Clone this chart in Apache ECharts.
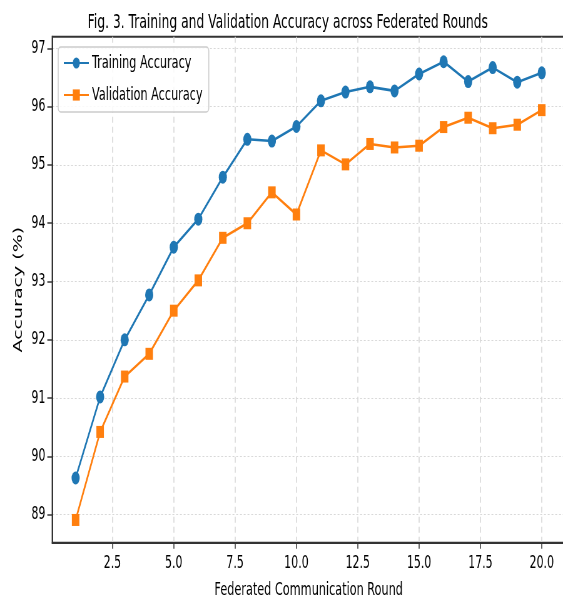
<!DOCTYPE html>
<html>
<head>
<meta charset="utf-8">
<script src="https://cdn.jsdelivr.net/npm/echarts@6/dist/echarts.min.js"></script>
<style>
html, body { margin: 0; padding: 0; background: #fff; overflow: hidden; }
#wrap { width: 563px; height: 600px; overflow: hidden; }
/* the reference is a 900px wide figure squeezed to 563px */
#chart { width: 900px; height: 600px; transform: scaleX(0.62556); transform-origin: 0 0; }
</style>
</head>
<body>
<div id="wrap"><div id="chart"></div></div>
<script>
var rounds = [1, 2, 3, 4, 5, 6, 7, 8, 9, 10, 11, 12, 13, 14, 15, 16, 17, 18, 19, 20];
var trainAcc = [89.63, 91.02, 92.00, 92.77, 93.59, 94.07, 94.79, 95.44, 95.41, 95.66,
                96.10, 96.25, 96.34, 96.27, 96.56, 96.77, 96.43, 96.67, 96.42, 96.58];
var valAcc = [88.91, 90.42, 91.37, 91.76, 92.50, 93.02, 93.75, 94.00, 94.53, 94.15,
              95.25, 95.01, 95.36, 95.30, 95.33, 95.65, 95.81, 95.63, 95.69, 95.94];
var xTicks = [2.5, 5, 7.5, 10, 12.5, 15, 17.5, 20];
var yTicks = [89, 90, 91, 92, 93, 94, 95, 96, 97];

var font = 'DejaVu Sans';

function pairs(xs, ys) {
    var out = [];
    for (var i = 0; i < xs.length; i++) out.push([xs[i], ys[i]]);
    return out;
}

var myChart = echarts.init(document.getElementById('chart'));

var option = {
    animation: false,
    backgroundColor: '#fff',
    title: {
        text: 'Fig. 3. Training and Validation Accuracy across Federated Rounds',
        left: 455,
        top: 8,
        textAlign: 'center',
        textStyle: { fontFamily: font, fontSize: 19.7, fontWeight: 'normal', color: '#000' }
    },
    legend: {
        left: 93,
        top: 47,
        orient: 'vertical',
        itemWidth: 40,
        itemHeight: 14,
        itemGap: 14,
        padding: [7, 10, 8, 8],
        backgroundColor: 'rgba(255,255,255,0.85)',
        borderColor: '#cccccc',
        borderWidth: 1.5,
        borderRadius: 4,
        textStyle: { fontFamily: font, fontSize: 18, color: '#000' },
        data: ['Training Accuracy', 'Validation Accuracy']
    },
    grid: {
        left: 83.6,
        right: -3.3,
        top: 36.7,
        bottom: 57.3,
        outerBoundsMode: 'none',
        show: true,
        borderColor: '#333',
        borderWidth: 2
    },
    xAxis: {
        type: 'value',
        min: 0.05,
        max: 20.95,
        name: 'Federated Communication Round',
        nameLocation: 'middle',
        nameGap: 39,
        nameTextStyle: { fontFamily: font, fontSize: 18, color: '#000' },
        axisLine: { show: true, lineStyle: { color: '#333', width: 2 } },
        axisTick: { show: true, customValues: xTicks, length: 6, lineStyle: { color: '#333', width: 1.5 } },
        axisLabel: {
            customValues: xTicks,
            margin: 12,
            fontFamily: font, fontSize: 17.5, color: '#000',
            formatter: function (v) { return v.toFixed(1); }
        },
        splitLine: { show: true, lineStyle: { color: '#d8d8d8', type: [6, 4], width: 1.6 } }
    },
    yAxis: {
        type: 'value',
        min: 88.52,
        max: 97.2,
        name: 'Accuracy (%)',
        nameLocation: 'middle',
        nameGap: 42,
        nameTextStyle: { fontFamily: font, fontSize: 19, color: '#000' },
        axisLine: { show: true, lineStyle: { color: '#333', width: 2 } },
        axisTick: { show: true, customValues: yTicks, length: 8, lineStyle: { color: '#333', width: 1.5 } },
        axisLabel: {
            customValues: yTicks,
            margin: 11,
            fontFamily: font, fontSize: 17.5, color: '#000'
        },
        splitLine: { show: true, lineStyle: { color: '#d8d8d8', type: [3, 3], width: 1 } }
    },
    series: [
        {
            name: 'Training Accuracy',
            type: 'line',
            data: pairs(rounds, trainAcc),
            symbol: 'circle',
            symbolSize: 13,
            lineStyle: { color: '#1f77b4', width: 2.6 },
            itemStyle: { color: '#1f77b4' }
        },
        {
            name: 'Validation Accuracy',
            type: 'line',
            data: pairs(rounds, valAcc),
            symbol: 'rect',
            symbolSize: 12,
            lineStyle: { color: '#ff7f0e', width: 2.6 },
            itemStyle: { color: '#ff7f0e' }
        }
    ]
};

myChart.setOption(option);
</script>
</body>
</html>
